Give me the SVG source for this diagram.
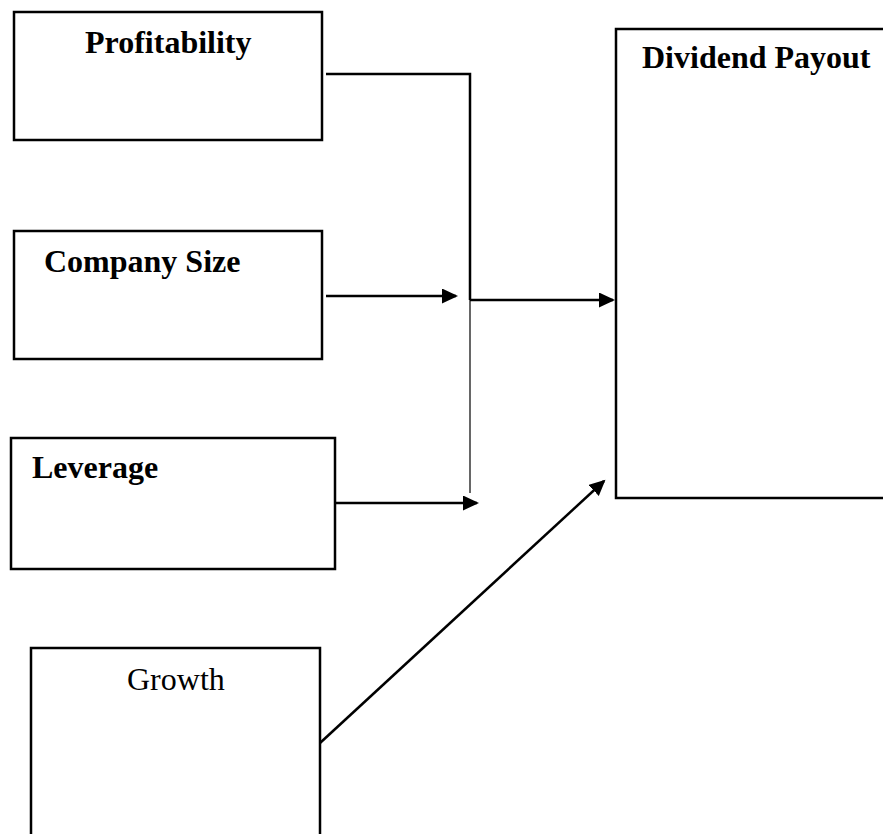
<svg xmlns="http://www.w3.org/2000/svg" width="883" height="834" viewBox="0 0 883 834">
  <style>
    .box { fill: #ffffff; stroke: #000000; stroke-width: 2.5; }
    .lbl { font-family: "Liberation Serif", "Times New Roman", serif; font-size: 32px; fill: #000000; }
    .b { font-weight: bold; }
    .conn { fill: none; stroke: #000000; stroke-width: 2.5; }
    .thin { fill: none; stroke: #000000; stroke-width: 1.2; }
  </style>
  <defs>
    <marker id="arrow" markerUnits="userSpaceOnUse" markerWidth="17" markerHeight="16" refX="14" refY="7.5" orient="auto">
      <path d="M0,0 L16,7.5 L0,15 Z" fill="#000000"/>
    </marker>
  </defs>
  <rect width="883" height="834" fill="#ffffff"/>

  <g id="profitability">
    <rect class="box" x="14" y="12" width="308" height="128"/>
    <text class="lbl b" x="85" y="53">Profitability</text>
  </g>
  <g id="company-size">
    <rect class="box" x="14" y="231" width="308" height="128"/>
    <text class="lbl b" x="44" y="272">Company Size</text>
  </g>
  <g id="leverage">
    <rect class="box" x="11" y="438" width="324" height="131"/>
    <text class="lbl b" x="32" y="478">Leverage</text>
  </g>
  <g id="growth">
    <rect class="box" x="31" y="648" width="289" height="200"/>
    <text class="lbl" x="127" y="690">Growth</text>
  </g>
  <g id="dividend-payout">
    <rect class="box" x="616" y="29" width="290" height="469"/>
    <text class="lbl b" x="642" y="68">Dividend Payout</text>
  </g>

  <g id="connectors">
    <polyline class="conn" points="326,74 470,74 470,300"/>
    <line class="thin" x1="470" y1="300" x2="470" y2="493"/>
    <line class="conn" x1="470" y1="300" x2="613" y2="300" marker-end="url(#arrow)"/>
    <line class="conn" x1="326" y1="296" x2="456" y2="296" marker-end="url(#arrow)"/>
    <line class="conn" x1="336" y1="503" x2="477" y2="503" marker-end="url(#arrow)"/>
    <line class="conn" x1="320" y1="743" x2="604" y2="481" marker-end="url(#arrow)"/>
  </g>
</svg>
